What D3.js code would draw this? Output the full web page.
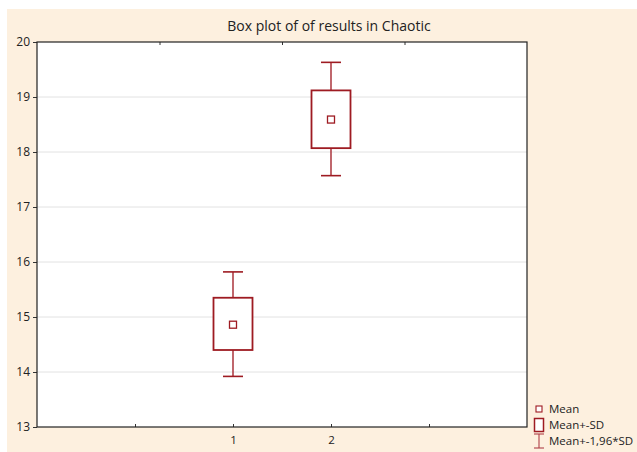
<!DOCTYPE html>
<html>
<head>
<meta charset="utf-8">
<script src="https://cdn.jsdelivr.net/npm/d3@7"></script>
<style>
  html, body { margin: 0; padding: 0; background: #ffffff; }
  svg { display: block; }
  text { font-family: "Open Sans", "Noto Sans", sans-serif; fill: #222; }
</style>
</head>
<body>
<svg id="chart" width="637" height="452"></svg>
<script>
// ---- data ----
const categories = ["1", "2"];
const catPositions = [2, 3];
const means = [14.86, 18.59];
const sdLow = [14.40, 18.07];
const sdHigh = [15.35, 19.12];
const ciLow = [13.92, 17.57];
const ciHigh = [15.82, 19.63];
const yTicks = [13, 14, 15, 16, 17, 18, 19, 20];
const xTickPositions = [1, 2, 3, 4];
const xTickLabels = ["", "1", "2", ""];
const topTickPositions = [1.25, 2.5, 3.75];
const legendLabels = ["Mean", "Mean+-SD", "Mean+-1,96*SD"];
const title = "Box plot of of results in Chaotic";

const svg = d3.select("#chart");
const W = 637, H = 452;
const m = { left: 37, right: 527, top: 42, bottom: 427 };
const red = "#9e1b22";
const whiskerCol = "#b04048";

// background
svg.append("rect").attr("x", 7).attr("y", 9).attr("width", W - 7).attr("height", H - 9)
  .attr("fill", "#fdf0df");
svg.append("rect").attr("x", m.left).attr("y", m.top)
  .attr("width", m.right - m.left).attr("height", m.bottom - m.top).attr("fill", "#fff");

const x = d3.scaleLinear().domain([0, 5]).range([m.left, m.right]);
const y = d3.scaleLinear().domain([13, 20]).range([m.bottom, m.top]);

// gridlines
svg.append("g").selectAll("line").data(yTicks.filter(t => t > 13 && t < 20)).join("line")
  .attr("x1", m.left).attr("x2", m.right)
  .attr("y1", d => y(d)).attr("y2", d => y(d))
  .attr("stroke", "#e2e2e2").attr("stroke-width", 1);

// left axis
const yAxis = d3.axisLeft(y).tickValues(yTicks).tickSize(4).tickPadding(3).tickFormat(d3.format("d"));
const gy = svg.append("g").attr("transform", `translate(${m.left},0)`).call(yAxis);
gy.select(".domain").remove();
gy.selectAll(".tick line").attr("stroke", "#333");
gy.selectAll(".tick text").style("font-size", "12px").attr("fill", "#222");

// bottom axis (ticks inward)
const xAxis = d3.axisBottom(x).tickValues(xTickPositions).tickSize(-3).tickPadding(9)
  .tickFormat((d, i) => xTickLabels[i]);
const gx = svg.append("g").attr("transform", `translate(0,${m.bottom})`).call(xAxis);
gx.select(".domain").remove();
gx.selectAll(".tick line").attr("stroke", "#333");
gx.selectAll(".tick text").style("font-size", "11.5px").attr("fill", "#222");

// top axis ticks (inward)
const tAxis = d3.axisTop(x).tickValues(topTickPositions).tickSize(-3).tickFormat("");
const gt = svg.append("g").attr("transform", `translate(0,${m.top})`).call(tAxis);
gt.select(".domain").remove();
gt.selectAll(".tick line").attr("stroke", "#333");

// frame
svg.append("rect").attr("x", m.left).attr("y", m.top)
  .attr("width", m.right - m.left).attr("height", m.bottom - m.top)
  .attr("fill", "none").attr("stroke", "#222").attr("stroke-width", 1.2);

// boxes
const boxW = 39, capW = 20, meanS = 7;
const data = categories.map((c, i) => ({
  pos: catPositions[i], mean: means[i], lo: sdLow[i], hi: sdHigh[i], wlo: ciLow[i], whi: ciHigh[i]
}));
const g = svg.append("g");
data.forEach(d => {
  const cx = x(d.pos);
  g.append("line").attr("x1", cx).attr("x2", cx).attr("y1", y(d.whi)).attr("y2", y(d.hi))
    .attr("stroke", whiskerCol).attr("stroke-width", 1.6);
  g.append("line").attr("x1", cx).attr("x2", cx).attr("y1", y(d.lo)).attr("y2", y(d.wlo))
    .attr("stroke", whiskerCol).attr("stroke-width", 1.6);
  g.append("line").attr("x1", cx - capW / 2).attr("x2", cx + capW / 2)
    .attr("y1", y(d.whi)).attr("y2", y(d.whi)).attr("stroke", red).attr("stroke-width", 1.6);
  g.append("line").attr("x1", cx - capW / 2).attr("x2", cx + capW / 2)
    .attr("y1", y(d.wlo)).attr("y2", y(d.wlo)).attr("stroke", red).attr("stroke-width", 1.6);
  g.append("rect").attr("x", cx - boxW / 2).attr("y", y(d.hi))
    .attr("width", boxW).attr("height", y(d.lo) - y(d.hi))
    .attr("fill", "#fff").attr("stroke", red).attr("stroke-width", 1.8);
  g.append("rect").attr("x", cx - meanS / 2).attr("y", y(d.mean) - meanS / 2)
    .attr("width", meanS).attr("height", meanS)
    .attr("fill", "#fff").attr("stroke", red).attr("stroke-width", 1.3);
});

// title
svg.append("text").attr("x", 329).attr("y", 31).attr("text-anchor", "middle")
  .style("font-size", "14px").text(title);

// legend
const lg = svg.append("g");
const lx = 539, ly = [409, 425, 441];
lg.append("rect").attr("x", lx - 3).attr("y", ly[0] - 3).attr("width", 6).attr("height", 6)
  .attr("fill", "#fff").attr("stroke", red).attr("stroke-width", 1.1);
lg.append("rect").attr("x", lx - 4.5).attr("y", ly[1] - 6.5).attr("width", 9).attr("height", 13)
  .attr("fill", "#fff").attr("stroke", red).attr("stroke-width", 1.5);
lg.append("line").attr("x1", lx).attr("x2", lx).attr("y1", ly[2] - 7).attr("y2", ly[2] + 7)
  .attr("stroke", whiskerCol).attr("stroke-width", 1.1);
lg.append("line").attr("x1", lx - 5).attr("x2", lx + 5).attr("y1", ly[2] - 7).attr("y2", ly[2] - 7)
  .attr("stroke", whiskerCol).attr("stroke-width", 1.1);
lg.append("line").attr("x1", lx - 5).attr("x2", lx + 5).attr("y1", ly[2] + 7).attr("y2", ly[2] + 7)
  .attr("stroke", whiskerCol).attr("stroke-width", 1.1);
lg.selectAll("text.leg").data(legendLabels).join("text").attr("class", "leg")
  .attr("x", 549).attr("y", (d, i) => ly[i]).attr("dy", "0.35em")
  .style("font-size", "11.5px").text(d => d);
</script>
</body>
</html>
